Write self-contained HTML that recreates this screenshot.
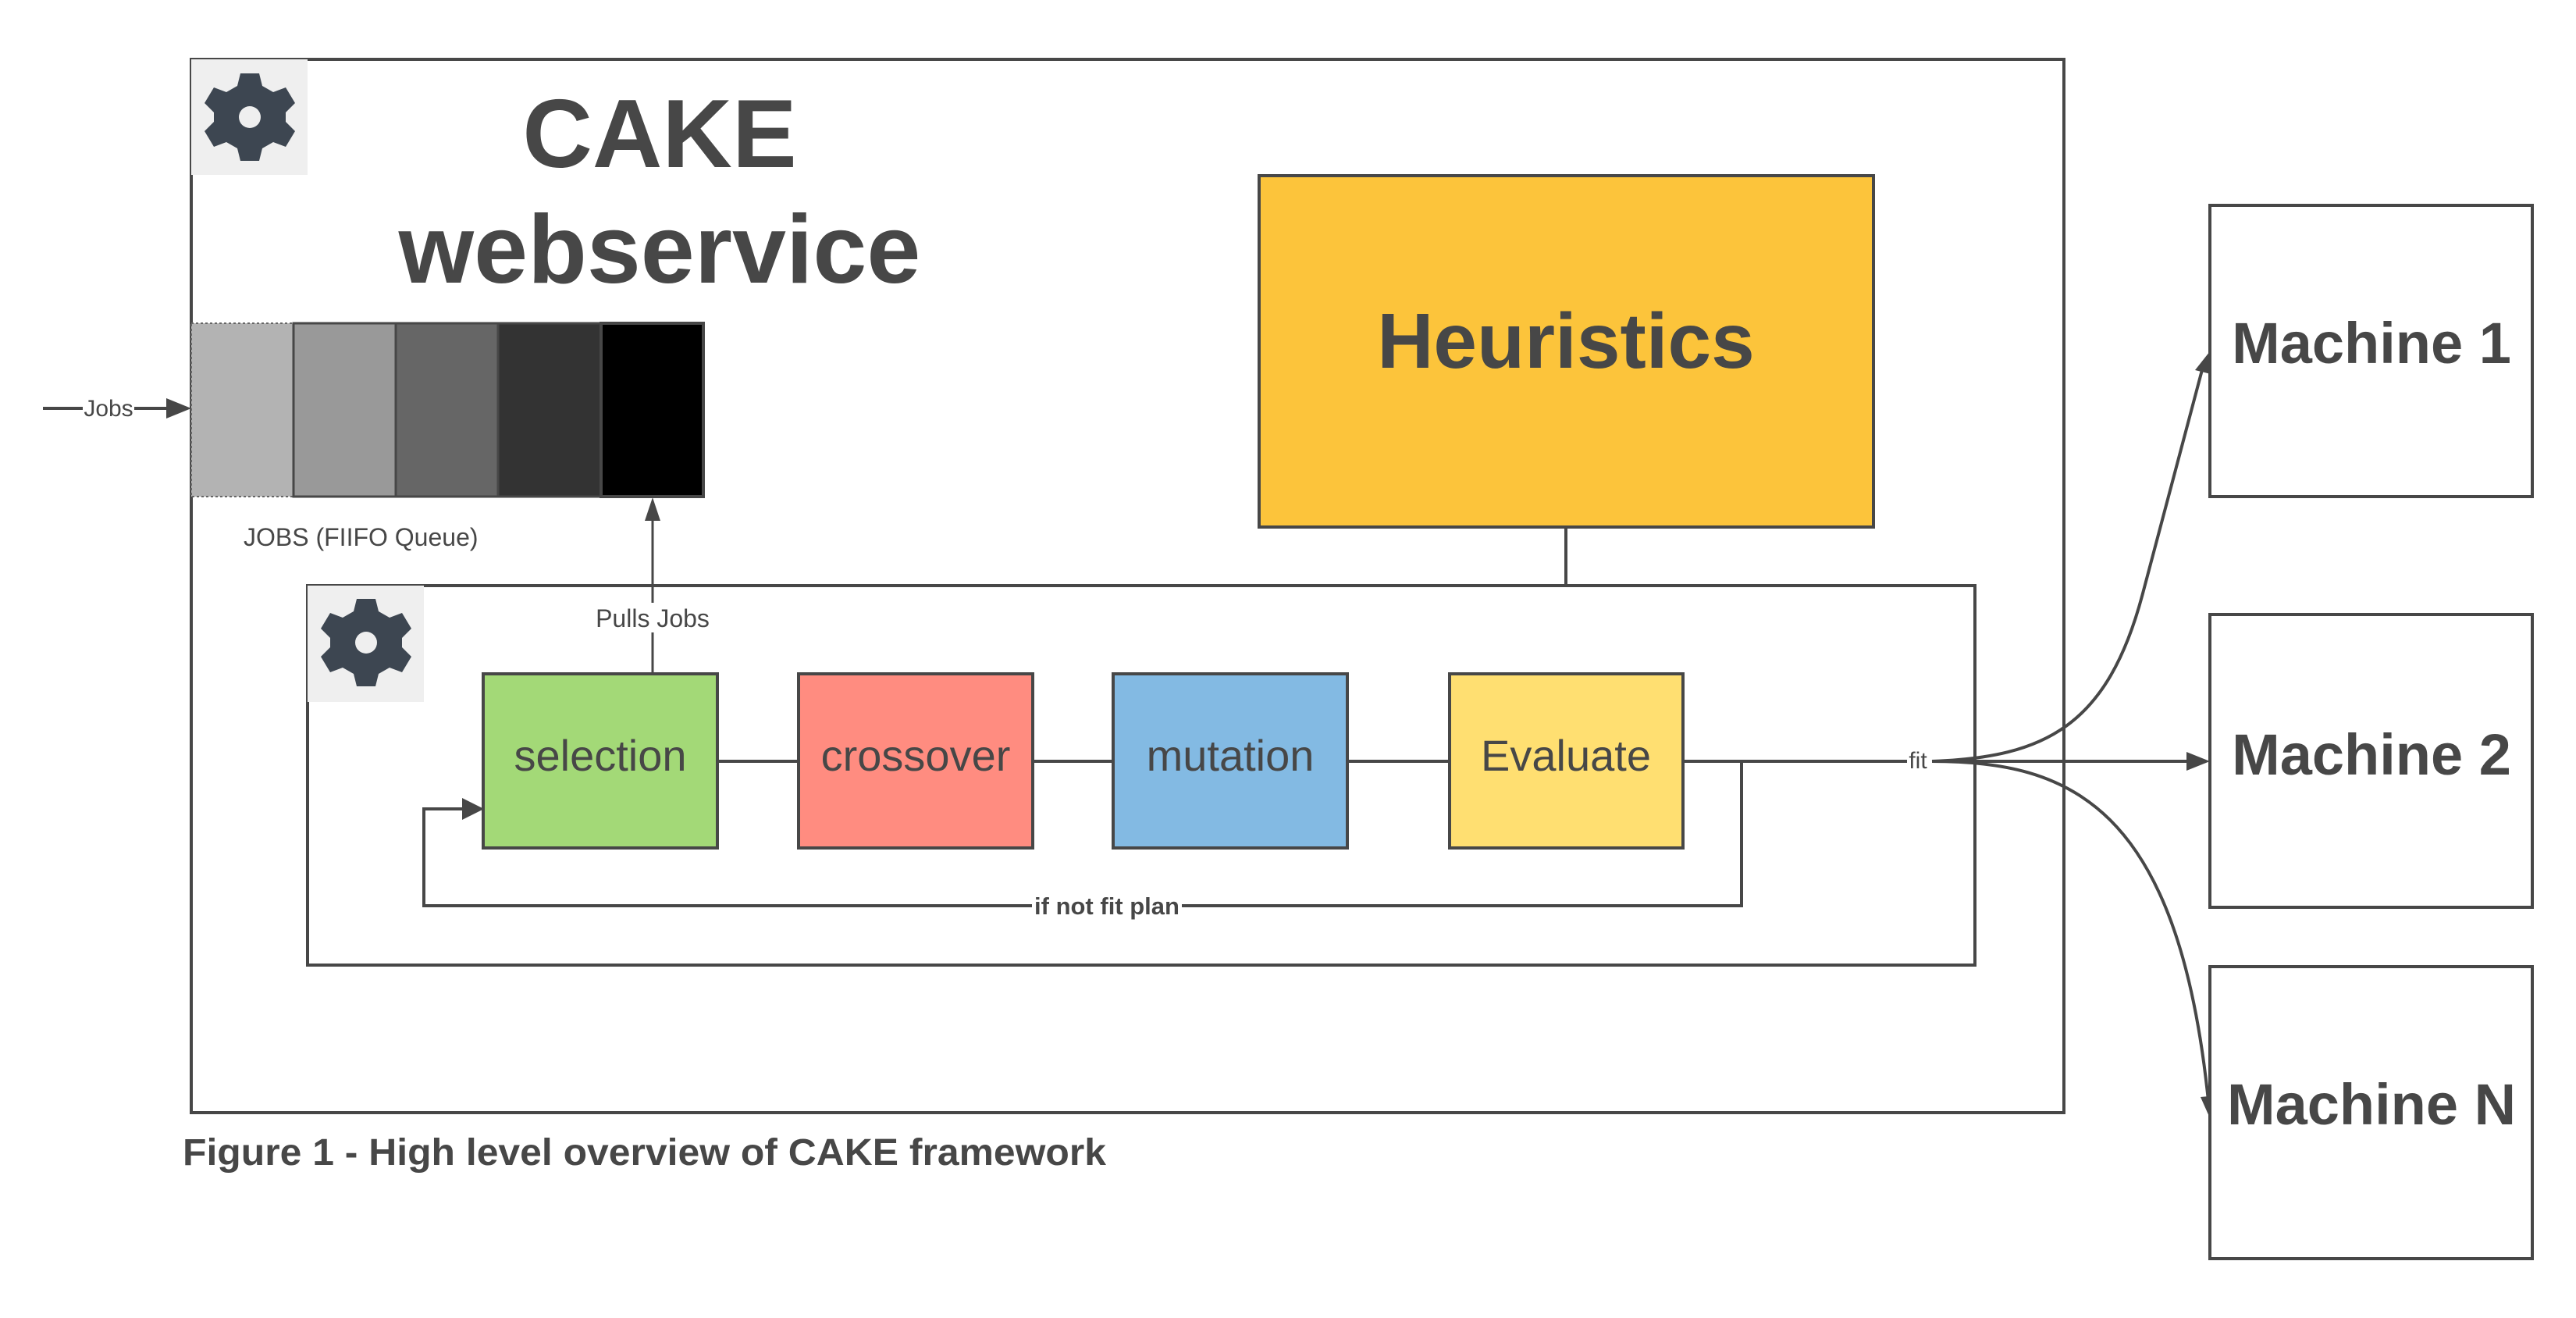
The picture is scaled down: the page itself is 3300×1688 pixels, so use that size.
<!DOCTYPE html>
<html><head><meta charset="utf-8"><style>
html,body{margin:0;padding:0;background:#fff}
svg{display:block}
text{font-family:"Liberation Sans",sans-serif;fill:#474747}
</style></head><body>
<svg width="3300" height="1688" viewBox="0 0 3300 1688" xmlns="http://www.w3.org/2000/svg">
<defs>
<g id="gear">
<path fill="#3d4651" d="M-12,-56 L12,-56 L16,-40 L30,-32 L46,-38 L58,-18 L46,-6 L46,6 L58,18 L46,38 L30,32 L16,40 L12,56 L-12,56 L-16,40 L-30,32 L-46,38 L-58,18 L-46,6 L-46,-6 L-58,-18 L-46,-38 L-30,-32 L-16,-40 Z"/>
<circle r="14" fill="#efefef"/>
</g>
</defs>
<rect x="245" y="76" width="2399" height="1349" fill="#fff" stroke="#474747" stroke-width="4"/>
<rect x="245" y="76" width="149" height="148" fill="#efefef"/>
<use href="#gear" x="320" y="150"/>
<text x="845" y="214" font-size="124" font-weight="bold" text-anchor="middle">CAKE</text>
<text x="845" y="362" font-size="124" font-weight="bold" text-anchor="middle">webservice</text>
<rect x="245" y="414" width="131" height="222" fill="#b3b3b3" stroke="#666" stroke-width="2" stroke-dasharray="3,3"/>
<rect x="376" y="414" width="131" height="222" fill="#999" stroke="#474747" stroke-width="3"/>
<rect x="507" y="414" width="131" height="222" fill="#666" stroke="#474747" stroke-width="3"/>
<rect x="638" y="414" width="132" height="222" fill="#333" stroke="#474747" stroke-width="3"/>
<rect x="770" y="414" width="131" height="222" fill="#000" stroke="#474747" stroke-width="4"/>
<line x1="55" y1="523" x2="225" y2="523" stroke="#474747" stroke-width="4"/>
<polygon points="245,523 213,510 213,536" fill="#474747"/>
<rect x="106" y="505" width="66" height="36" fill="#fff"/>
<text x="139" y="533" font-size="30" text-anchor="middle">Jobs</text>
<text x="312" y="699" font-size="32">JOBS (FIIFO Queue)</text>
<rect x="1613" y="225" width="787" height="450" fill="#fcc43b" stroke="#474747" stroke-width="4"/>
<text x="2006" y="471" font-size="100" font-weight="bold" text-anchor="middle">Heuristics</text>
<line x1="2006" y1="675" x2="2006" y2="750" stroke="#474747" stroke-width="4"/>
<rect x="394" y="750" width="2136" height="486" fill="none" stroke="#474747" stroke-width="4"/>
<rect x="394" y="750" width="149" height="149" fill="#efefef"/>
<use href="#gear" x="469" y="823"/>
<line x1="836" y1="863" x2="836" y2="660" stroke="#474747" stroke-width="3"/>
<polygon points="836,637 826,667 846,667" fill="#474747"/>
<rect x="756" y="772" width="160" height="38" fill="#fff"/>
<text x="836" y="803" font-size="32" text-anchor="middle">Pulls Jobs</text>
<line x1="918" y1="975" x2="2456" y2="975" stroke="#474747" stroke-width="4"/>
<rect x="619" y="863" width="300" height="223" fill="#a3d977" stroke="#474747" stroke-width="4"/>
<rect x="1023" y="863" width="300" height="223" fill="#ff8c80" stroke="#474747" stroke-width="4"/>
<rect x="1426" y="863" width="300" height="223" fill="#83bae3" stroke="#474747" stroke-width="4"/>
<rect x="1857" y="863" width="299" height="223" fill="#ffdf71" stroke="#474747" stroke-width="4"/>
<text x="769" y="987" font-size="56" text-anchor="middle">selection</text>
<text x="1173" y="987" font-size="56" text-anchor="middle">crossover</text>
<text x="1576" y="987" font-size="56" text-anchor="middle">mutation</text>
<text x="2006" y="987" font-size="56" text-anchor="middle">Evaluate</text>
<polyline points="2156,975 2231,975 2231,1160 543,1160 543,1036 600,1036" fill="none" stroke="#474747" stroke-width="4"/>
<polygon points="620,1036 592,1022 592,1050" fill="#474747"/>
<rect x="1322" y="1142" width="192" height="38" fill="#fff"/>
<text x="1418" y="1171" font-size="31" font-weight="bold" text-anchor="middle">if not fit plan</text>
<rect x="2443" y="955" width="29" height="38" fill="#fff"/>
<text x="2457" y="984" font-size="30" text-anchor="middle">fit</text>
<line x1="2475" y1="975" x2="2805" y2="975" stroke="#474747" stroke-width="4"/>
<polygon points="2831,975 2801,963 2801,987" fill="#474747"/>
<path d="M2475,975 C2620,970 2700,930 2745,760 L2822,470" fill="none" stroke="#474747" stroke-width="4"/>
<polygon points="2831,450 2812,474 2832,479" fill="#474747"/>
<path d="M2475,975 C2650,975 2790,1030 2829,1410" fill="none" stroke="#474747" stroke-width="4"/>
<polygon points="2831,1432 2819,1405 2840,1403" fill="#474747"/>
<rect x="2831" y="263" width="413" height="373" fill="#fff" stroke="#474747" stroke-width="4"/>
<rect x="2831" y="787" width="413" height="375" fill="#fff" stroke="#474747" stroke-width="4"/>
<rect x="2831" y="1238" width="413" height="374" fill="#fff" stroke="#474747" stroke-width="4"/>
<text x="3038" y="465" font-size="74" font-weight="bold" text-anchor="middle">Machine 1</text>
<text x="3038" y="992" font-size="74" font-weight="bold" text-anchor="middle">Machine 2</text>
<text x="3038" y="1440" font-size="74" font-weight="bold" text-anchor="middle">Machine N</text>
<text x="234" y="1492" font-size="48" font-weight="bold" textLength="1183" lengthAdjust="spacingAndGlyphs">Figure 1 - High level overview of CAKE framework</text>
</svg>
</body></html>
